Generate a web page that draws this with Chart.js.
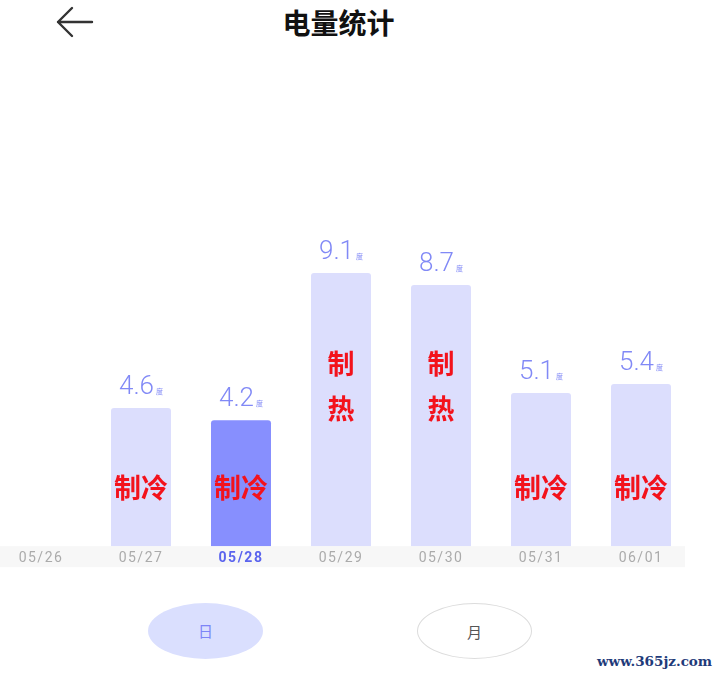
<!DOCTYPE html>
<html lang="zh">
<head>
    <meta charset="UTF-8">
    <title>电量统计</title>
    <script src="https://cdn.jsdelivr.net/npm/chart.js"></script>
    <style>
        body { margin: 0; width: 718px; height: 679px; background: #fff; position: relative; overflow: hidden;
               font-family: "Noto Sans CJK SC", "Noto Sans", sans-serif; }
        #title { position: absolute; left: 0; width: 677px; top: 4px; text-align: center; font-size: 28px;
                 font-weight: bold; color: #111; line-height: 36px; }
        #back { position: absolute; left: 50px; top: 2px; }
        #chartBox { position: absolute; left: -9px; top: 0; width: 700px; height: 580px; }
        .btn { position: absolute; top: 603px; width: 115px; height: 56px; border-radius: 50%; box-sizing: border-box;
               text-align: center; line-height: 56px; font-size: 15px; }
        #day { left: 148px; background: #dadffe; color: #7d85f7; }
        #month { left: 417px; border: 1px solid #dcdcdc; color: #555; }
        #mark { position: absolute; left: 597px; top: 653px; font-family: "DejaVu Serif", serif; font-weight: bold;
                font-size: 13.5px; color: #1f3b7a; }
    </style>
</head>
<body>
<svg id="back" width="50" height="40">
    <path d="M8 20 L42 20 M8 20 L22 6 M8 20 L22 34" stroke="#333" stroke-width="2.4" fill="none" stroke-linecap="round"/>
</svg>
<div id="title">电量统计</div>
<div id="chartBox"><canvas id="powerChart"></canvas></div>
<div class="btn" id="day">日</div>
<div class="btn" id="month">月</div>
<div id="mark">www.365jz.com</div>
<script>
    // 日期 / 用电量(度) / 模式
    const days = ['05/26', '05/27', '05/28', '05/29', '05/30', '05/31', '06/01'];
    const kwh = [0, 4.6, 4.2, 9.1, 8.7, 5.1, 5.4];
    const modes = ['', '制冷', '制冷', '制热', '制热', '制冷', '制冷'];
    const selectedDay = '05/28';

    const lightBar = '#dcdefd';
    const darkBar = '#878ffe';

    // 灰色日期底条
    const bandPlugin = {
        id: 'band',
        beforeDraw(chart) {
            const c = chart.ctx;
            const base = chart.chartArea.bottom;
            c.fillStyle = '#f7f7f7';
            c.fillRect(9, base, 685, 21);
            // 日期文字加字距
            c.letterSpacing = '1.5px';
        },
        afterDraw(chart) {
            chart.ctx.letterSpacing = '0px';
        }
    };

    // 柱顶数值和柱内模式文字
    const labelPlugin = {
        id: 'labels',
        afterDatasetsDraw(chart) {
            const c = chart.ctx;
            const meta = chart.getDatasetMeta(0);
            const base = chart.chartArea.bottom;
            c.save();
            c.letterSpacing = '0px';
            meta.data.forEach((bar, i) => {
                if (!kwh[i]) return;
                const txt = kwh[i].toFixed(1);
                c.font = '300 26px Roboto, "Noto Sans", sans-serif';
                const w = c.measureText(txt).width;
                c.font = '7px "Noto Sans CJK SC"';
                const w2 = c.measureText('度').width;
                const x0 = bar.x - (w + w2 + 2) / 2;
                const y = bar.y - 14;
                c.fillStyle = '#8189f6';
                c.textAlign = 'left';
                c.textBaseline = 'alphabetic';
                c.font = '300 26px Roboto, "Noto Sans", sans-serif';
                c.fillText(txt, x0, y);
                c.font = '7px "Noto Sans CJK SC"';
                c.fillText('度', x0 + w + 2, y);

                const m = modes[i];
                if (!m) return;
                c.fillStyle = '#f3121c';
                c.font = 'bold 27px "Noto Sans CJK SC"';
                c.textAlign = 'center';
                c.textBaseline = 'middle';
                if (m === '制热') {
                    c.fillText(m[0], bar.x, base - 182);
                    c.fillText(m[1], bar.x, base - 137);
                } else {
                    c.fillText(m, bar.x, base - 58);
                }
            });
            c.restore();
            c.letterSpacing = '1.5px';
        }
    };

    const ctx = document.getElementById('powerChart').getContext('2d');
    new Chart(ctx, {
        type: 'bar',
        data: {
            labels: days,
            datasets: [{
                data: kwh,
                backgroundColor: days.map(d => d === selectedDay ? darkBar : lightBar),
                borderRadius: { topLeft: 3, topRight: 3 },
                borderSkipped: 'bottom',
                barPercentage: 0.6,
                categoryPercentage: 1
            }]
        },
        options: {
            responsive: true,
            maintainAspectRatio: false,
            animation: false,
            layout: { padding: { left: 0, right: 0, top: 186, bottom: 9 } },
            plugins: { legend: { display: false }, tooltip: { enabled: false }, title: { display: false } },
            scales: {
                x: {
                    grid: { display: false, drawTicks: false },
                    border: { display: false },
                    ticks: {
                        padding: 4,
                        font: c => ({ size: 14, family: 'Roboto, "Noto Sans", sans-serif',
                                      weight: days[c.index] === selectedDay ? 'bold' : 'normal' }),
                        color: c => days[c.index] === selectedDay ? '#5b64ee' : '#ababab'
                    }
                },
                y: { display: false, min: 0, max: 12 }
            }
        },
        plugins: [bandPlugin, labelPlugin]
    });
</script>
</body>
</html>
